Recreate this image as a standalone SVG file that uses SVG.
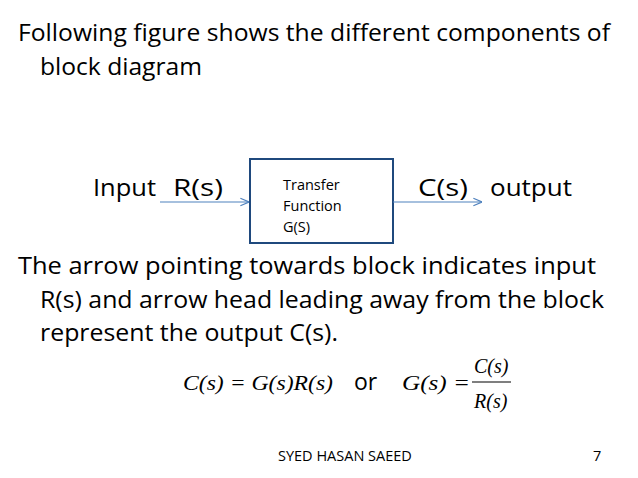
<svg xmlns="http://www.w3.org/2000/svg" width="638" height="478" viewBox="0 0 638 478">
<defs>
<style>
.t{font-family:"Open Sans","Liberation Sans",sans-serif;font-size:23px;fill:#000}
.s{font-family:"Open Sans","Liberation Sans",sans-serif;font-size:14.5px;fill:#000}
.m{font-family:"Liberation Serif",serif;font-size:20px;fill:#000}
.c{stroke:#4f81bd;stroke-width:1.2;fill:none}
</style>
<marker id="a" viewBox="0 0 10 10" refX="10" refY="5" markerWidth="8" markerHeight="8" orient="auto"><path d="M1 1L10 5L1 9" fill="none" stroke="#4f81bd" stroke-width="1.2"/></marker>
</defs>
<rect width="638" height="478" fill="#fff"/>
<text class="t" x="18" y="41" textLength="592" lengthAdjust="spacingAndGlyphs">Following figure shows the different components of</text>
<text class="t" x="40" y="75" textLength="162" lengthAdjust="spacingAndGlyphs">block diagram</text>
<text class="t" x="93" y="196" textLength="63" lengthAdjust="spacingAndGlyphs">Input</text>
<text class="t" x="173" y="196" textLength="50" lengthAdjust="spacingAndGlyphs">R(s)</text>
<text class="t" x="418" y="196" textLength="50" lengthAdjust="spacingAndGlyphs">C(s)</text>
<text class="t" x="490" y="196" textLength="82" lengthAdjust="spacingAndGlyphs">output</text>
<g id="block">
<rect x="250" y="159" width="143" height="84" fill="#fff" stroke="#1f497d" stroke-width="2"/>
<text class="s" x="283" y="190">Transfer</text>
<text class="s" x="283" y="211">Function</text>
<text class="s" x="283" y="232">G(S)</text>
</g>
<g id="connectors">
<line class="c" x1="160" y1="202" x2="249" y2="202" marker-end="url(#a)"/>
<line class="c" x1="393" y1="202" x2="482" y2="202" marker-end="url(#a)"/>
</g>
<text class="t" x="18" y="274" textLength="578" lengthAdjust="spacingAndGlyphs">The arrow pointing towards block indicates input</text>
<text class="t" x="40" y="308" textLength="564" lengthAdjust="spacingAndGlyphs">R(s) and arrow head leading away from the block</text>
<text class="t" x="40" y="341" textLength="298" lengthAdjust="spacingAndGlyphs">represent the output C(s).</text>
<text class="m" x="183" y="390" font-style="italic" textLength="150" lengthAdjust="spacingAndGlyphs">C(s) = G(s)R(s)</text>
<text class="t" x="354" y="390" font-size="22">or</text>
<text class="m" x="402" y="390" font-style="italic" textLength="68" lengthAdjust="spacingAndGlyphs">G(s) =</text>
<line x1="472" y1="382" x2="511" y2="382" stroke="#000" stroke-width="1.2"/>
<text class="m" x="474" y="373" font-style="italic">C(s)</text>
<text class="m" x="474" y="408" font-style="italic">R(s)</text>
<text class="s" x="278" y="461" font-size="11">SYED HASAN SAEED</text>
<text class="s" x="593" y="461" font-size="11" fill="#888">7</text>
</svg>
